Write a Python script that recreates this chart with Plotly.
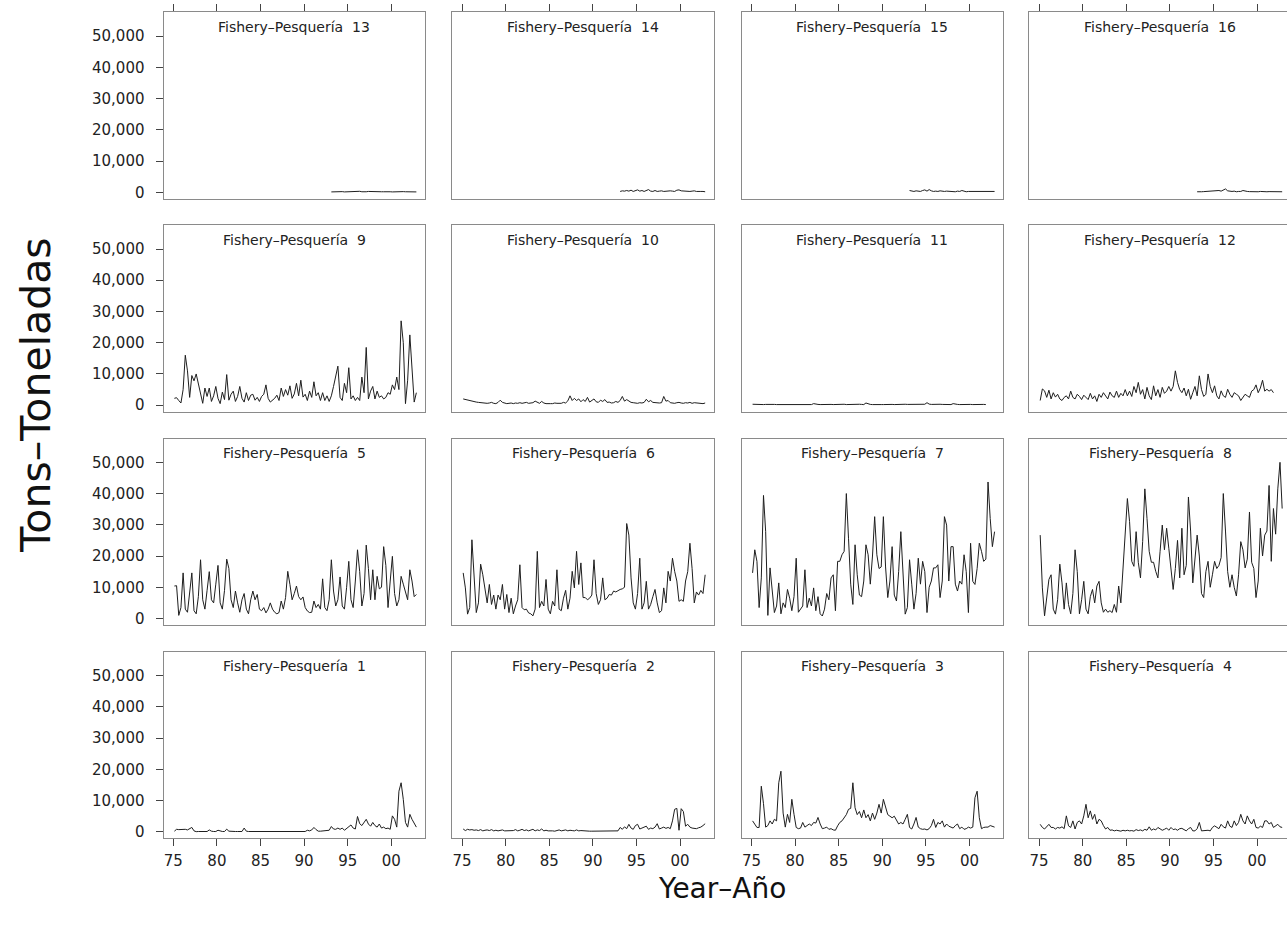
import plotly.graph_objects as go

# ---------------------------------------------------------------
# Quarterly catch (tons) by fishery, one row per year, Q1..Q4
# ---------------------------------------------------------------
f1 = [
    200, 800, 700, 800,   700, 800, 600, 900,   1400, 300, 50, 100,
    100, 100, 200, 100,   600, 200, 100, 100,   500, 200, 100, 100,
    850, 200, 100, 100,   100, 100, 100, 100,   1200, 200, 100, 100,
    100, 50, 50, 50,      50, 50, 50, 50,       50, 50, 100, 50,
    50, 50, 50, 100,      100, 50, 50, 50,      50, 100, 50, 50,
    100, 500, 300, 600,   1400, 700, 200, 200,  300, 200, 300, 500,
    1700, 900, 800, 1200, 800, 1200, 500, 1000, 1600, 2200, 1200, 900,
    4900, 2600, 2000, 3000, 4000, 2500, 1800, 3000, 2000, 1500, 2500, 1200,
    1500, 1000, 1200, 800, 5100, 4000, 1500, 13000, 15700, 10400, 3000, 1500,
    5600, 4000, 2500, 1500,
]

f2 = [
    900, 400, 800, 600,   700, 500, 600, 400,   700, 300, 500, 600,
    400, 700, 300, 500,   300, 400, 600, 300,   300, 500, 300, 400,
    700, 300, 500, 800,   400, 600, 300, 500,   800, 300, 600, 400,
    900, 300, 500, 300,   400, 300, 200, 300,   600, 300, 400, 600,
    300, 500, 400, 300,   600, 300, 400, 300,   400, 300, 200, 200,
    200, 300, 200, 200,   200, 200, 300, 200,   300, 200, 400, 300,
    1400, 800, 1600, 1000, 2400, 1200, 800, 2000, 2400, 900, 1200, 1500,
    1800, 800, 1200, 1000, 1500, 2600, 900, 1200, 1500, 1100, 1400, 1000,
    3500, 7200, 7500, 500, 7400, 6500, 1800, 2400, 1500, 1200, 1100, 1000,
    1300, 1500, 2000, 2600,
]

f3 = [
    3500, 2500, 1400, 1400,   14600, 9000, 1500, 2000,   3500, 2500, 4000, 3500,
    15700, 19400, 6000, 1500, 5600, 3000, 10400, 5600,   1400, 1000, 1200, 3000,
    1500, 2000, 2500, 2000,   3000, 2800, 4600, 2500,    1000, 1200, 1500, 800,
    1000, 600, 500, 1900,     3000, 3500, 4500, 5500,    7200, 7500, 15700, 7700,
    5500, 6500, 4500, 7000,   4500, 5500, 3500, 6000,    4000, 6000, 8800, 6000,
    10400, 8000, 5500, 5000,  4500, 5000, 3500, 2500,    3000, 2500, 4000, 5600,
    1400, 900, 2500, 4600,    1500, 1000, 800, 900,      600, 1000, 2000, 4000,
    1400, 3000, 2500, 3500,   1500, 2500, 1800, 1500,    1200, 2000, 2500, 1000,
    1500, 800, 1000, 1500,    1200, 1500, 10900, 13000,  4500, 1000, 1400, 1500,
    1500, 2000, 1800, 1500,
]

f4 = [
    2400, 1400, 900, 1800,   2400, 1400, 1400, 900,   1400, 1200, 1600, 1000,
    5100, 1900, 1400, 3500,  900, 3000, 3500, 2500,   5100, 8800, 4500, 6700,
    4000, 5600, 2500, 4000,  3500, 2000, 900, 1400,   500, 600, 300, 500,
    400, 200, 500, 300,      500, 300, 400, 200,      700, 400, 600, 300,
    800, 500, 1600, 500,     900, 600, 1400, 800,     500, 800, 1200, 500,
    1400, 700, 900, 500,     1000, 1100, 600, 300,    1000, 1400, 300, 300,
    1000, 3000, 300, 400,    300, 500, 300, 1400,     1900, 1400, 1000, 2400,
    1600, 1200, 3500, 1800,  1400, 3500, 2000, 3000,  5600, 3500, 2500, 5100,
    3500, 2500, 4000, 1400,  1200, 1800, 1400, 3500,  3500, 2500, 3000, 1400,
    2000, 2400, 1600, 1400,
]

f5 = [
    10400, 10500, 1000, 3500,  14600, 3000, 2000, 8000,   14600, 2500, 1500, 7000,
    18800, 6000, 3000, 9000,   15000, 6000, 5000, 11000,  17000, 5000, 3000, 9000,
    19000, 16000, 6000, 3500,  8800, 5000, 2000, 6000,    8000, 3000, 1500, 6000,
    8800, 6000, 7700, 3000,    2500, 3500, 1800, 3000,    5000, 3000, 2000, 1500,
    1900, 5600, 3000, 6700,    15100, 10900, 6000, 8000,  10400, 7000, 6000, 6900,
    3500, 2400, 1900, 2000,    5600, 3500, 4500, 3000,    12700, 3500, 2500, 6000,
    18800, 8800, 4000, 6000,   13300, 4000, 3000, 10000,  18300, 6000, 3500, 12000,
    22000, 15000, 4000, 8000,  23500, 16000, 6000, 15600, 6000, 13500, 9500, 10000,
    23000, 17000, 3500, 12000, 19900, 8000, 4000, 6000,   13500, 11000, 8000, 6000,
    15600, 12000, 7000, 7700,
]

f6 = [
    14600, 9800, 1400, 3500,   25200, 14000, 1900, 5000,  17400, 14000, 9800, 5000,
    10900, 4500, 7500, 3000,   7500, 6000, 10900, 3000,   7700, 1900, 6500, 1500,
    4000, 6000, 17200, 3500,   2800, 3000, 1800, 1500,    850, 3000, 21500, 3500,
    5500, 4000, 12500, 3000,   1500, 5500, 4000, 15600,   3000, 2500, 6500, 9000,
    3000, 6500, 15100, 9800,   21500, 10900, 17800, 6700, 6700, 6000, 6500, 7500,
    18800, 8000, 4500, 6000,   13000, 6000, 6500, 7700,   7500, 8800, 8500, 9000,
    9300, 9500, 10000, 30400,  26700, 13000, 5000, 3000,  8000, 19300, 3000, 5000,
    11900, 3000, 4500, 7000,   9300, 5000, 1900, 2500,    9800, 5000, 15100, 12000,
    19300, 15100, 12000, 5500, 6000, 5500, 12000, 15000,  24100, 16000, 5000, 8500,
    7500, 9000, 8000, 14000,
]

f7 = [
    14600, 22000, 18300, 3500,  13000, 39400, 27800, 1000,  16200, 9000, 1900, 4000,
    11400, 1500, 5000, 3500,    9300, 6500, 2500, 7000,     19300, 2000, 3000, 4000,
    15600, 3500, 6500, 4000,    9800, 2500, 7000, 1500,     800, 3000, 8000, 6000,
    13000, 14000, 2500, 18300,  18300, 20400, 21500, 40000, 25700, 11000, 4500, 23600,
    14000, 7500, 7000, 12000,   23600, 20400, 11000, 20000, 32600, 20400, 16000, 16500,
    32600, 16500, 6700, 12000,  23000, 7500, 5600, 15000,   27800, 15000, 1400, 3500,
    18800, 11000, 3000, 8000,   19300, 11000, 18300, 15000, 1900, 10000, 12000, 16200,
    16200, 17200, 6700, 12000,  32600, 29900, 12000, 23000, 23000, 11000, 8800, 12000,
    11000, 20400, 15000, 1900,  24100, 11900, 10900, 16000, 24100, 21500, 18300, 19000,
    43700, 32000, 23000, 27800,
]

f8 = [
    26700, 9800, 850, 6000,     12500, 14000, 3000, 1400,   6000, 17400, 11400, 3000,
    11400, 4500, 1500, 8000,    22000, 15000, 1500, 6000,   11900, 3000, 1500, 7000,
    9300, 5000, 10400, 11900,   5000, 2000, 3000, 2000,     2500, 1900, 4500, 2000,
    10400, 5000, 16700, 24600,  38400, 31000, 18300, 16700, 27800, 18000, 13000, 24600,
    41500, 32000, 21500, 18000, 18000, 15100, 13000, 21500, 29900, 22000, 28900, 22500,
    16000, 9300, 16000, 25000,  13000, 28900, 14000, 17000, 38900, 28000, 11400, 20000,
    26700, 20000, 8000, 6700,   15000, 18300, 10000, 14000, 18300, 16000, 17000, 19500,
    40000, 28000, 15000, 10000, 14000, 10000, 7200, 14000,  24600, 22000, 16200, 19000,
    34100, 18000, 16000, 6700,  12000, 28900, 20000, 26700, 28000, 42600, 18300, 35200,
    27000, 41500, 50000, 35200,
]

f9 = [
    2200, 2400, 1500, 700,    5000, 16000, 11000, 2500,  9500, 7800, 10000, 6500,
    3500, 600, 5500, 2800,    5500, 1200, 3000, 6000,    2200, 500, 4200, 1800,
    9800, 1600, 3500, 4500,   1200, 2800, 6000, 2200,    1000, 4000, 1500, 3200,
    3500, 1600, 2500, 1200,   2800, 3500, 6500, 2200,    1000, 1500, 2200, 3200,
    1500, 5500, 2800, 5000,   3200, 6200, 2200, 3600,    7000, 3000, 8000, 2600,
    3500, 1500, 4500, 2500,   7500, 3000, 4000, 1500,    4000, 1500, 3000, 1200,
    3000, 6000, 9000, 12500,  2500, 1500, 7000, 4000,    12000, 2000, 3000, 1500,
    2500, 1500, 9000, 4000,   18500, 2000, 4500, 6000,   2000, 4500, 2500, 3000,
    2000, 2500, 4000, 3500,   6500, 5000, 9000, 5000,    27000, 20000, 500, 8000,
    22500, 10000, 1000, 4000,
]

f10 = [
    2000, 1800, 1600, 1500,  1400, 1200, 1000, 900,   800, 900, 700, 600,
    700, 900, 600, 500,      900, 1600, 900, 600,     500, 600, 700, 500,
    700, 600, 800, 600,      700, 900, 600, 700,      800, 1300, 900, 600,
    1200, 700, 500, 600,     500, 500, 700, 600,      500, 600, 900, 700,
    1400, 3000, 1500, 2200,  1500, 2000, 1100, 1800,  1200, 2500, 1000, 1600,
    2000, 1100, 900, 1600,   1200, 1800, 900, 1000,   700, 800, 1200, 900,
    1500, 2800, 1300, 1800,  1200, 900, 800, 700,     600, 800, 700, 900,
    1900, 1100, 1500, 900,   800, 900, 700, 800,      2800, 1300, 1500, 800,
    700, 600, 800, 900,      700, 600, 800, 700,      900, 600, 800, 700,
    500, 600, 500, 700,
]

# 1975-2001
f11 = [
    300, 250, 200, 250,  250, 200, 250, 300,  250, 200, 250, 200,
    200, 250, 300, 250,  250, 200, 250, 200,  200, 250, 200, 250,
    250, 300, 250, 200,  500, 300, 250, 200,  250, 200, 250, 300,
    250, 200, 250, 200,  200, 250, 300, 200,  250, 200, 250, 300,
    250, 300, 250, 200,  700, 350, 250, 200,  250, 300, 250, 200,
    200, 250, 300, 250,  250, 200, 250, 300,  250, 200, 300, 250,
    250, 300, 250, 200,  300, 400, 250, 300,  800, 350, 250, 300,
    250, 200, 300, 250,  250, 300, 250, 200,  500, 300, 250, 200,
    250, 200, 250, 300,  250, 200, 250, 200,  250, 300, 250, 200,
]

f12 = [
    1500, 5200, 4600, 2500,  4800, 2000, 4000, 2600,  3500, 2000, 1500, 2500,
    3000, 2000, 4500, 2500,  2000, 3500, 2800, 1800,  3200, 2500, 1800, 3800,
    2000, 3000, 1200, 3500,  2500, 4000, 3000, 2000,  4200, 3000, 2500, 4500,
    2500, 3800, 3000, 5000,  3000, 4500, 2800, 6000,  4000, 7300, 3500, 5000,
    2000, 5700, 3000, 1800,  6200, 3000, 5000, 2500,  5700, 3800, 4500, 6000,
    4500, 6000, 11000, 7300, 5000, 4000, 5500, 3000,  5100, 1900, 4000, 6000,
    3000, 9400, 5000, 2800,  3500, 10000, 6000, 4000, 6200, 3000, 2000, 4600,
    3000, 2500, 5100, 3500,  2500, 4000, 3500, 3000,  1500, 2500, 3500, 3000,
    2500, 4500, 5000, 6500,  4000, 5500, 8000, 4500,  5100, 4500, 5000, 4000,
]

# 1993-2002
f13 = [
    150, 200, 150, 200,  150, 250, 150, 200,  200, 300, 150, 200,
    250, 350, 200, 150,  200, 300, 250, 200,  150, 200, 150, 200,
    200, 250, 150, 200,  150, 200, 200, 150,  200, 250, 200, 150,
    150, 200, 150, 150,
]

f14 = [
    300, 500, 400, 600,  400, 700, 300, 500,  800, 400, 600, 300,
    500, 900, 400, 300,  600, 300, 400, 500,  300, 400, 300, 500,
    400, 300, 700, 800,  500, 400, 300, 400,  300, 400, 500, 300,
    400, 300, 300, 200,
]

f15 = [
    600, 400, 300, 500,  400, 300, 600, 800,  400, 900, 500, 300,
    400, 300, 500, 300,  300, 400, 300, 200,  300, 200, 400, 300,
    600, 300, 200, 300,  300, 200, 300, 400,  300, 200, 300, 200,
    300, 200, 300, 300,
]

f16 = [
    200, 300, 200, 250,  300, 200, 250, 300,  300, 500, 600, 400,
    800, 1100, 500, 300, 300, 400, 200, 300,  300, 600, 400, 300,
    250, 200, 300, 200,  200, 300, 200, 250,  200, 250, 200, 200,
    200, 250, 200, 200,
]

SERIES = {
    1: (f1, 1975), 2: (f2, 1975), 3: (f3, 1975), 4: (f4, 1975),
    5: (f5, 1975), 6: (f6, 1975), 7: (f7, 1975), 8: (f8, 1975),
    9: (f9, 1975), 10: (f10, 1975), 11: (f11, 1975), 12: (f12, 1975),
    13: (f13, 1993), 14: (f14, 1993), 15: (f15, 1993), 16: (f16, 1993),
}

X_TICKS = [75, 80, 85, 90, 95, 100]
X_TICK_TEXT = ["75", "80", "85", "90", "95", "00"]
Y_TICKS = [0, 10000, 20000, 30000, 40000, 50000]
Y_TICK_TEXT = ["0", "10,000", "20,000", "30,000", "40,000", "50,000"]

# ---------------------------------------------------------------
# Page geometry (pixels)
# ---------------------------------------------------------------
W, H = 1287, 927
COL_LEFT = [163.5, 452.3, 741.7, 1029.3]
PANEL_W = 261.5
ROW_TOP = [12.5, 226.0, 440.0, 654.0]
PANEL_H = 187.0
PX_PER_YEAR = 8.72
X_START = 73.876
Y_RANGE = [-2070, 57600]

FONT = "DejaVu Sans"
BORDER = "#8a8a8a"
TICKC = "#444444"
LINEC = "#1e1e1e"


def quarter_times(start_year, n):
    return [(start_year - 1900) + (i // 4) + ((i % 4) + 0.5) / 4.0 for i in range(n)]


fig = go.Figure()
annotations = []

for r in range(4):
    for c in range(4):
        k = r * 4 + c + 1
        fishery = (3 - r) * 4 + c + 1
        vals, start = SERIES[fishery]
        xname = "x" if k == 1 else f"x{k}"
        yname = "y" if k == 1 else f"y{k}"

        fig.add_trace(go.Scatter(
            x=quarter_times(start, len(vals)), y=vals, mode="lines",
            line=dict(color=LINEC, width=1), xaxis=xname, yaxis=yname,
            showlegend=False, hoverinfo="skip",
        ))

        left = COL_LEFT[c]
        right = min(left + PANEL_W, W)
        xdom = [left / W, right / W]
        ydom = [1 - (ROW_TOP[r] + PANEL_H) / H, 1 - ROW_TOP[r] / H]
        xr = [X_START, X_START + (right - left) / PX_PER_YEAR]

        xa = dict(
            domain=xdom, range=xr, anchor=yname, showgrid=False, zeroline=False,
            showline=True, linecolor=BORDER, linewidth=1, mirror=True,
            tickvals=X_TICKS, ticktext=X_TICK_TEXT, fixedrange=True,
            tickcolor=TICKC, tickfont=dict(family=FONT, size=15, color="#222"),
        )
        if r == 0:
            xa.update(side="top", ticks="outside", ticklen=7, showticklabels=False)
        elif r == 3:
            xa.update(side="bottom", ticks="outside", ticklen=7, showticklabels=True,
                      ticklabelstandoff=2)
        else:
            xa.update(ticks="", showticklabels=False)

        ya = dict(
            domain=ydom, range=Y_RANGE, anchor=xname, showgrid=False, zeroline=False,
            showline=True, linecolor=BORDER, linewidth=1, mirror=(c < 3),
            tickvals=Y_TICKS, ticktext=Y_TICK_TEXT, fixedrange=True,
            tickcolor=TICKC, tickfont=dict(family=FONT, size=15, color="#222"),
        )
        if c == 0:
            ya.update(ticks="outside", ticklen=7, showticklabels=True, ticklabelstandoff=8)
        else:
            ya.update(ticks="", showticklabels=False)

        fig.layout["xaxis" if k == 1 else f"xaxis{k}"] = xa
        fig.layout["yaxis" if k == 1 else f"yaxis{k}"] = ya

        annotations.append(dict(
            text=f"Fishery\u2013Pesquería\u00a0\u00a0{fishery}",
            x=(left + PANEL_W / 2) / W, y=1 - (ROW_TOP[r] + 14.5) / H,
            xref="paper", yref="paper", xanchor="center", yanchor="middle",
            showarrow=False, font=dict(family=FONT, size=14, color="#222"),
        ))

annotations.append(dict(
    text="Year\u2013Año", x=722 / W, y=1 - 891 / H, xref="paper", yref="paper",
    xanchor="center", yanchor="middle", showarrow=False,
    font=dict(family=FONT, size=28, color="#111"),
))
annotations.append(dict(
    text="Tons\u2013Toneladas", x=36 / W, y=1 - 397 / H, xref="paper", yref="paper",
    xanchor="center", yanchor="middle", showarrow=False, textangle=-90,
    font=dict(family=FONT, size=41, color="#111"),
))

fig.update_layout(
    width=W, height=H, margin=dict(l=0, r=0, t=0, b=0),
    paper_bgcolor="white", plot_bgcolor="white",
    annotations=annotations, showlegend=False,
)

fig.write_html("out.html", config={"displayModeBar": False})
